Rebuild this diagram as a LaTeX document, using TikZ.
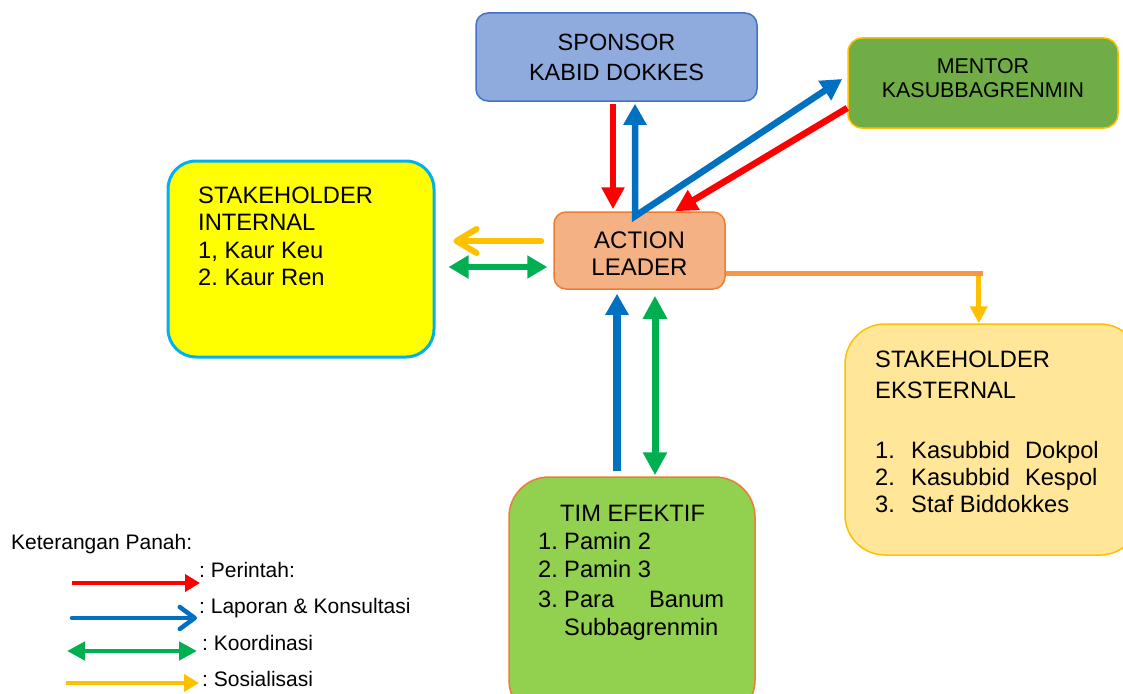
\documentclass[tikz,border=0pt]{standalone}
\usepackage{fontspec}
\setmainfont{Liberation Sans}
\frenchspacing
\usetikzlibrary{arrows.meta,positioning,calc}
\definecolor{spc}{RGB}{143,170,220}
\definecolor{spb}{RGB}{68,114,196}
\definecolor{mnc}{RGB}{112,173,71}
\definecolor{gold}{RGB}{255,192,0}
\definecolor{alc}{RGB}{244,177,131}
\definecolor{alb}{RGB}{237,125,49}
\definecolor{sic}{RGB}{255,255,0}
\definecolor{sib}{RGB}{0,176,240}
\definecolor{sec}{RGB}{255,230,153}
\definecolor{tec}{RGB}{146,208,80}
\definecolor{prc}{RGB}{255,0,0}
\definecolor{lkc}{RGB}{0,112,192}
\definecolor{koc}{RGB}{0,176,80}
\definecolor{orl}{RGB}{247,150,70}
\tikzset{box/.style={draw,line width=1.5pt,rounded corners=12pt,align=center,inner sep=0pt,font=\fontsize{23.5}{30}\selectfont},
 big/.style={draw,line width=1.5pt,rounded corners=40pt,inner sep=0pt},
 txt/.style={align=left,inner sep=0pt,anchor=north west,font=\fontsize{23.7}{27.5}\selectfont},
 leg/.style={inner sep=0pt,anchor=base west,font=\fontsize{21}{24}\selectfont},
 per/.style={draw=prc,line width=6.5pt,-{Triangle[length=22pt,width=22pt]}},
 lap/.style={draw=lkc,line width=6.5pt,-{Triangle[length=21pt,width=22pt]}},
 kor/.style={draw=koc,line width=6pt,{Triangle[length=20pt,width=22pt]}-{Triangle[length=20pt,width=22pt]}},
 sos/.style={draw=gold,line width=5pt,-{Triangle[length=17pt,width=17pt]}},
 sosb/.style={draw=gold,line width=6pt,line cap=round,-{Straight Barb[length=20pt,width=24pt,round]}},
 orang/.style={draw=orl,line width=5pt}}
\begin{document}
\begin{tikzpicture}[x=1pt,y=-1pt]
\fill[white] (0,0) rectangle (1123,693);
\useasboundingbox (0,0) rectangle (1123,693);
\node[box,fill=spc,draw=spb,minimum width=281pt,minimum height=88pt] (sponsor) at (616.5,57) {SPONSOR\\KABID DOKKES};
\node[box,fill=mnc,draw=gold,minimum width=270pt,minimum height=90pt,rounded corners=14pt,font=\fontsize{21.4}{24}\selectfont] (mentor) at (983,83) {MENTOR\\KASUBBAGRENMIN\rule[-10pt]{0pt}{10pt}};
\node[box,fill=alc,draw=alb,minimum width=171pt,minimum height=77pt,font=\fontsize{24}{27}\selectfont] (leader) at (639.5,250.5) {\rule{0pt}{23pt}ACTION\\LEADER};
\node[big,fill=sic,draw=sib,line width=3pt,rounded corners=28pt,minimum width=266pt,minimum height=196pt] (internal) at (301,259) {};
\node[txt] (intlist) at (198,186.5) {STAKEHOLDER\\INTERNAL\\1, Kaur Keu\\2. Kaur Ren};
\node[big,fill=sec,draw=gold,minimum width=295pt,minimum height=231pt] (eksternal) at (992.5,439.5) {};
\node[txt,font=\fontsize{23.7}{27}\selectfont] (ekslist) at (875,351) {STAKEHOLDER\\[4pt]EKSTERNAL\\\mbox{}\\[6pt]\makebox[36pt][l]{1.}Kasubbid\hspace{15pt}Dokpol\\\makebox[36pt][l]{2.}Kasubbid\hspace{15pt}Kespol\\\makebox[36pt][l]{3.}Staf Biddokkes};
\node[big,fill=tec,draw=alb,minimum width=246pt,minimum height=243pt] (tim) at (632,598.5) {};
\node[txt,font=\fontsize{23.7}{28}\selectfont] (timlist) at (538,505) {\hspace*{22pt}TIM EFEKTIF\\\makebox[26pt][l]{1.}Pamin 2\\\makebox[26pt][l]{2.}Pamin 3\\[2pt]\makebox[26pt][l]{3.}\makebox[160pt][l]{Para\hfill Banum}\\\hspace*{26pt}Subbagrenmin};
\coordinate (lp) at ([shift={(-4.5,5)}]leader.north);
\coordinate (mtip) at ([shift={(-5,-4)}]mentor.west);
\draw[per,shorten <=2pt,shorten >=2pt] ([shift={(-3.5,0)}]sponsor.south) -- ([shift={(-3.5,0)}]sponsor.south |- leader.north);
\draw[lap,{Triangle[length=21pt,width=22pt]}-{Triangle[length=21pt,width=22pt]},shorten <=2pt] (lp |- sponsor.south) -- (lp) -- (mtip);
\draw[per] ([shift={(0,25)}]mentor.west) -- ([shift={(35.5,0)}]leader.north);
\draw[sosb,shorten <=12pt,shorten >=18pt] ([shift={(0,-9.5)}]leader.west) -- ([shift={(0,-9.5)}]leader.west -| internal.east);
\draw[kor,shorten <=6pt,shorten >=13pt] ([shift={(0,16.5)}]leader.west) -- ([shift={(0,16.5)}]leader.west -| internal.east);
\draw[lap,line width=8pt,shorten <=5pt,shorten >=4pt] ([shift={(-22.5,0)}]leader.south |- tim.north) -- ([shift={(-22.5,0)}]leader.south);
\draw[kor,line width=7pt,{Triangle[length=23pt,width=23pt]}-{Triangle[length=23pt,width=23pt]},shorten <=6pt,shorten >=1pt] ([shift={(15.5,0)}]leader.south) -- ([shift={(15.5,0)}]leader.south |- tim.north);
\draw[orang] ([shift={(0,22.5)}]leader.east) -- ++(257,0) coordinate (oe);
\draw[sos] ([shift={(-4,2.5)}]oe) -- ([shift={(-4,0)}]oe |- eksternal.north);
\node[leg] (ket) at (11,549.5) {Keterangan Panah:};
\node[leg] (lper) at (199,577.5) {: Perintah:};
\node[leg] (llap) at (199,613.5) {: Laporan \& Konsultasi};
\node[leg] (lkor) at (202,650.5) {: Koordinasi};
\node[leg] (lsos) at (202,686.5) {: Sosialisasi};
\draw[per,line width=4.5pt,-{Triangle[length=15pt,width=17pt]}] ([shift={(-127,5.5)}]lper.base west) -- ([shift={(1,5.5)}]lper.base west);
\draw[lap,line width=4.5pt,line cap=round,-{Straight Barb[length=15pt,width=22pt,round]}] ([shift={(-127,4.5)}]llap.base west) -- ([shift={(-2,4.5)}]llap.base west);
\draw[kor,line width=4.5pt,{Triangle[length=18pt,width=18pt]}-{Triangle[length=18pt,width=18pt]}] ([shift={(-135,0.5)}]lkor.base west) -- ([shift={(-5,0.5)}]lkor.base west);
\draw[sos,line width=4.5pt,-{Triangle[length=15pt,width=17pt]}] ([shift={(-136,-3.5)}]lsos.base west) -- ([shift={(-3,-3.5)}]lsos.base west);
\end{tikzpicture}
\end{document}
